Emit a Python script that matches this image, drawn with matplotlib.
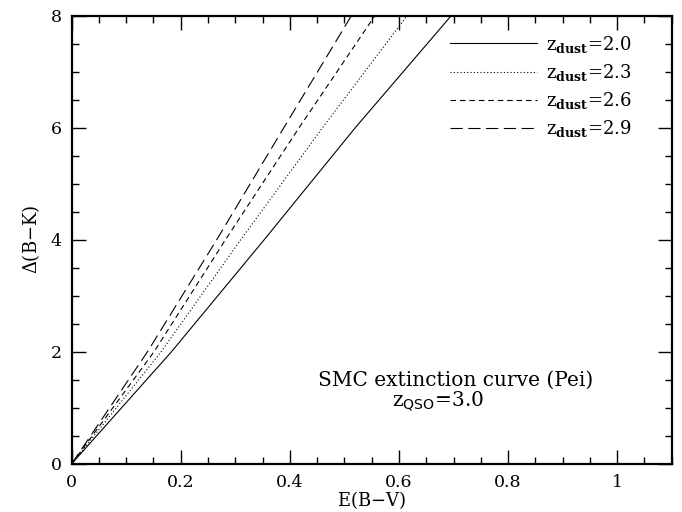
import numpy as np
import matplotlib
matplotlib.use("Agg")
import matplotlib.pyplot as plt
from matplotlib.ticker import MultipleLocator

# Delta(B-K) levels, and E(B-V) at those levels
dbk = [0, 2, 4, 6, 8]
ebv_z20 = [0, 0.183, 0.353, 0.520, 0.696]
ebv_z23 = [0, 0.164, 0.310, 0.460, 0.615]
ebv_z26 = [0, 0.151, 0.282, 0.417, 0.556]
ebv_z29 = [0, 0.139, 0.266, 0.389, 0.513]

labels = ["2.0", "2.3", "2.6", "2.9"]

plt.rcParams['font.family'] = ['DejaVu Serif']
plt.rcParams['mathtext.fontset'] = 'dejavuserif'

fig = plt.figure(figsize=(6.82, 5.12), dpi=100)
ax = fig.add_axes([0.105, 0.094, 0.880, 0.8756])

styles = [
    dict(ls='-', lw=0.8),
    dict(ls=(0, (1, 2)), lw=0.8),
    dict(ls=(0, (5, 3.5)), lw=0.8),
    dict(ls=(0, (11, 5)), lw=0.8),
]
for xs, lab, st in zip([ebv_z20, ebv_z23, ebv_z26, ebv_z29], labels, styles):
    ax.plot(xs, dbk, color='black', label=r'z$_{\mathsf{\mathbf{dust}}}$=' + lab, **st)

ax.set_xlim(0, 1.1)
ax.set_ylim(0, 8)
ax.xaxis.set_minor_locator(MultipleLocator(0.05))
ax.yaxis.set_major_locator(MultipleLocator(2))
ax.yaxis.set_minor_locator(MultipleLocator(0.5))
ax.set_xticks([0, 0.2, 0.4, 0.6, 0.8, 1.0])
ax.set_xticklabels(['0', '0.2', '0.4', '0.6', '0.8', '1'])
ax.tick_params(which='both', direction='in', top=True, right=True, labelsize=12.5, width=1)
ax.tick_params(which='major', length=10, pad=7)
ax.tick_params(which='minor', length=5)
for sp in ax.spines.values():
    sp.set_linewidth(1.6)

ax.set_xlabel('E(B$-$V)', fontsize=13, labelpad=-1)
ax.set_ylabel(r'$\Delta$(B$-$K)', fontsize=13, labelpad=6)

ax.legend(loc='upper right', frameon=False, fontsize=13, handlelength=4.8,
          handletextpad=0.5, labelspacing=0.4, borderaxespad=0.6,
          bbox_to_anchor=(0.963, 1.0))

ax.text(0.703, 1.49, 'SMC extinction curve (Pei)', ha='center', va='center', fontsize=14.5)
ax.text(0.672, 1.12, r'z$_{\mathsf{QSO}}$=3.0', ha='center', va='center', fontsize=14.5)

fig.savefig('out.png', dpi=100)
